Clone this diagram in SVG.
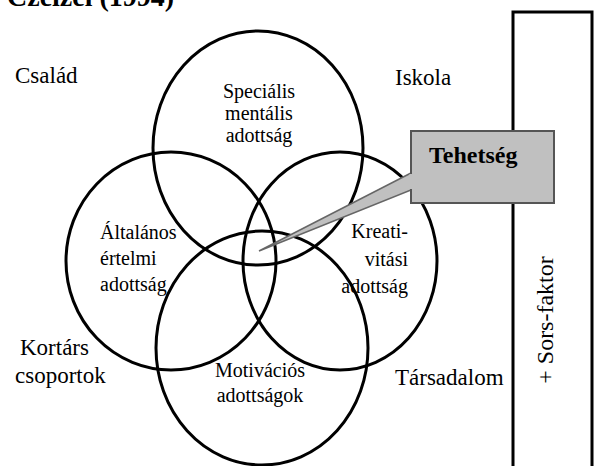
<svg xmlns="http://www.w3.org/2000/svg" width="594" height="466" viewBox="0 0 594 466">
<style>
.c{fill:none;stroke:#000;stroke-width:3}
.m{text-anchor:middle}
.e{text-anchor:end}
.o{font-size:23px}
</style>
<rect width="594" height="466" fill="#fff"/>
<g font-family="Liberation Serif, Times New Roman, serif" font-size="20" fill="#000">
<text x="7" y="6" font-weight="bold" font-size="28">Czeizel (1994)</text>
<g id="sors-frame">
<polyline points="513,466 513,12 592,12 592,466" fill="none" stroke="#000" stroke-width="3"/>
<text class="m" transform="translate(553,320) rotate(-90)" font-size="24">+ Sors-faktor</text>
</g>
<g id="context">
<text class="o" x="15" y="83">Család</text>
<text class="o" x="395" y="85">Iskola</text>
<text class="o" x="20" y="355">Kortárs</text>
<text class="o" x="15" y="383">csoportok</text>
<text class="o" x="395" y="385">Társadalom</text>
</g>
<g id="specialis">
<ellipse class="c" cx="258" cy="148" rx="105" ry="117"/>
<text class="m" x="259" y="98">Speciális</text>
<text class="m" x="259" y="120">mentális</text>
<text class="m" x="259" y="142">adottság</text>
</g>
<g id="altalanos">
<ellipse class="c" cx="171" cy="261" rx="105" ry="109"/>
<text x="100" y="239">Általános</text>
<text x="100" y="265">értelmi</text>
<text x="100" y="291">adottság</text>
</g>
<g id="kreativitasi">
<ellipse class="c" cx="340" cy="261" rx="97" ry="109"/>
<text class="e" x="408" y="238">Kreati-</text>
<text class="e" x="408" y="266">vitási</text>
<text class="e" x="408" y="293">adottság</text>
</g>
<g id="motivacios">
<ellipse class="c" cx="262" cy="348" rx="106" ry="117"/>
<text class="m" x="260" y="377">Motivációs</text>
<text class="m" x="260" y="402">adottságok</text>
</g>
<g id="tehetseg">
<polygon points="411,173 259,251 411,190" fill="#c0c0c0" stroke="#666" stroke-width="1.5"/>
<rect x="411" y="131" width="143" height="72" fill="#c0c0c0" stroke="#555" stroke-width="2"/>
<line x1="411" y1="174" x2="411" y2="189" stroke="#c0c0c0" stroke-width="3"/>
<text x="429" y="163" font-weight="bold" font-size="24">Tehetség</text>
</g>
</g>
</svg>
